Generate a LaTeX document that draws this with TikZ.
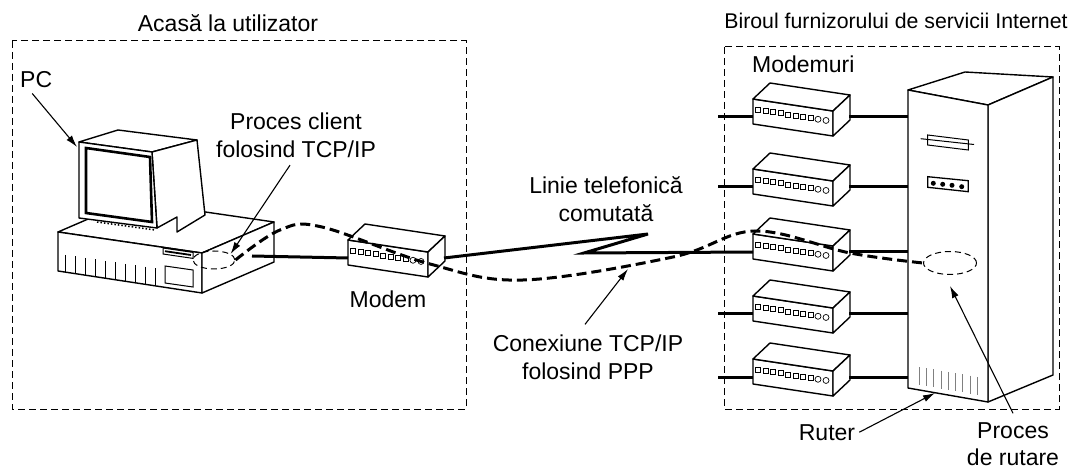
\documentclass[tikz,border=0pt]{standalone}
\usepackage{fontspec}
\setmainfont{Liberation Sans}
\usetikzlibrary{arrows.meta,shapes.geometric}

\begin{document}
\begin{tikzpicture}[
  x=1pt,y=-1pt,
  font=\fontsize{23}{28}\selectfont,
  >={Latex[length=12pt,width=7pt]},
  lbl/.style={align=center,inner sep=0pt},
  zone/.style={draw,line width=1pt,dash pattern=on 7pt off 4pt},
  box/.style={draw,fill=white,line width=1.4pt,line join=round},
  led/.style={line width=0.7pt},
  cable/.style={line width=3pt},
  proc/.style={draw,ellipse,inner sep=0pt,line width=1pt,dash pattern=on 6pt off 4pt},
  tcp/.style={line width=3pt,dash pattern=on 10pt off 5pt},
  pointer/.style={->,line width=1.1pt},
  modem/.pic={
    \draw[box] (0,0) -- (80,12) -- (80,37) -- (0,25) -- cycle;
    \draw[box] (0,0) -- (17,-16) -- (97,-4) -- (80,12) -- cycle;
    \draw[box] (80,12) -- (97,-4) -- (97,21) -- (80,37) -- cycle;
    \foreach \k in {0,...,7}
      \draw[led] ({2.5+7.5*\k},{8+0.15*(2.5+7.5*\k)}) rectangle ++(5,5);
    \foreach \k in {65,73}
      \draw[led] (\k,{10.5+0.15*\k}) circle[radius=3pt];
    \coordinate (-l) at (0,18);
    \coordinate (-r) at (96,18);
  }
]
\path[fill=white,use as bounding box] (0,0) rectangle (1071,470);

% the two premises
\draw[zone] (12,41) rectangle (466,409);
\draw[zone] (724,47) rectangle (1059,409);
\node[lbl,anchor=base] (home) at (228,31.5) {Acasă la utilizator};
\node[lbl,anchor=base,font=\fontsize{21.3}{25}\selectfont] (isp) at (896,29) {Biroul furnizorului de servicii Internet};

% desktop case
\draw[box] (58,232) -- (130,201) -- (274,222) -- (202,253) -- cycle;
\draw[box] (58,232) -- (202,253) -- (202,293) -- (58,271) -- cycle;
\draw[box] (202,253) -- (274,222) -- (274,262) -- (202,293) -- cycle;
\foreach \x in {65,75,...,155}
  \draw[line width=1pt] (\x,{255+0.146*(\x-65)}) -- (\x,{271+0.146*(\x-58)});
\draw[line width=1pt] (163,248) -- (193,252.4) -- (193,258.4) -- (163,254) -- cycle;
\draw[line width=1.8pt] (165,251.2) -- (191,255);
\draw[line width=1pt] (165,266) -- (193,270) -- (193,287) -- (165,283) -- cycle;

% monitor
\draw[box] (79,142) -- (118,130) -- (197,140) -- (152,152) -- cycle;
\draw[box] (152,152) -- (197,140) -- (205,215) -- (177,232) -- (177,217) -- (157,228) -- cycle;
\draw[box] (79,142) -- (152,152) -- (157,228) -- (79,218) -- cycle;
\draw[line width=2.6pt] (86,148) -- (150,157) -- (152,222) -- (86,213) -- cycle;
\draw[line width=1.5pt,dotted] (97,222) -- (155,230);
\coordinate (monL) at (77,147);

\node[proc,minimum width=42pt,minimum height=18pt] (client) at (214,260) {};
\coordinate (port) at (252,256);

% home modem and the dial-up line
\pic (hm) at (348,240) {modem};
\draw[cable] (port) -- (hm-l);

% router
\coordinate (rtFL) at (908,90);
\draw[box] (908,90) -- (965,72) -- (1053,77) -- (988,105) -- cycle;
\draw[box] (988,105) -- (1053,77) -- (1053,375) -- (988,402) -- cycle;
\draw[box] (908,90) -- (988,105) -- (988,402) -- (908,388) -- cycle;
\draw[line width=1pt] (927.7,135) -- (968.3,140) -- (968.3,150) -- (927.7,145) -- cycle;
\draw[line width=1pt] (920.7,138.7) -- (974,144.5);
\draw[line width=1.3pt] (927.7,176.7) -- (968.3,180.7) -- (968.3,191.7) -- (927.7,187.3) -- cycle;
\foreach \x/\y in {933.3/183.3,942.7/184.3,952/185.3,961.7/186.7}
  \fill (\x,\y) circle[radius=2.5pt];
\foreach \k in {0,...,8}
  \draw[gray,line width=0.8pt] ({919+7.3*\k},{367+0.17*7.3*\k}) -- ++(0,18);
\coordinate (rtFoot) at (935,393);
\node[proc,minimum width=53pt,minimum height=23pt] (rproc) at (950,263) {};

% modem bank
\foreach \y [count=\i] in {99,169,234,296,359} {
  \pic (m\i) at (753,\y) {modem};
  \draw[cable] (m\i-r) -- (m\i-r -| rtFL);
}
\foreach \i in {1,2,4,5}
  \draw[cable] (m\i-l) -- ++(-35,0);

\coordinate (kinkA) at (648,234);
\coordinate (kinkB) at (584,253);
\draw[cable,line join=miter] (hm-r) -- (kinkA) -- (kinkB) -- (m3-l);

% TCP/IP link over PPP
\draw[tcp] plot[smooth,tension=0.6] coordinates {(client.east) (280,230) (322,227) (430,264)
  (523,280) (673,257) (755,231) (850,253) (rproc.west)};
\coordinate (onLink) at (628,269);

% labels
\node[lbl,anchor=base west] (pc) at (20,88) {PC};
\node[lbl] (clientlbl) at (296,135.5) {Proces client\\folosind TCP/IP};
\node[lbl,anchor=base] (modemlbl) at (388,308) {Modem};
\node[lbl] (linelbl) at (606,199) {Linie telefonică\\comutată};
\node[lbl] (linklbl) at (588,357) {Conexiune TCP/IP\\folosind PPP};
\node[lbl,anchor=base west] (modemslbl) at (752,73) {Modemuri};
\node[lbl,anchor=base] (ruterlbl) at (827,440) {Ruter};
\node[lbl,font=\fontsize{23}{27}\selectfont] (routelbl) at (1013,444) {Proces\\de rutare};

\draw[pointer] ([xshift=-4pt,yshift=-5pt]pc.south) -- (monL);
\draw[pointer] ([xshift=-6pt,yshift=-7pt]clientlbl.south) -- (client.20);
\draw[pointer] ([xshift=-3pt,yshift=10pt]linklbl.north) -- (onLink);
\draw[pointer] ([xshift=4pt]ruterlbl.east) -- (rtFoot);
\draw[pointer] ([yshift=9pt]routelbl.north) -- ([yshift=-11pt]rproc.south);
\end{tikzpicture}
\end{document}
